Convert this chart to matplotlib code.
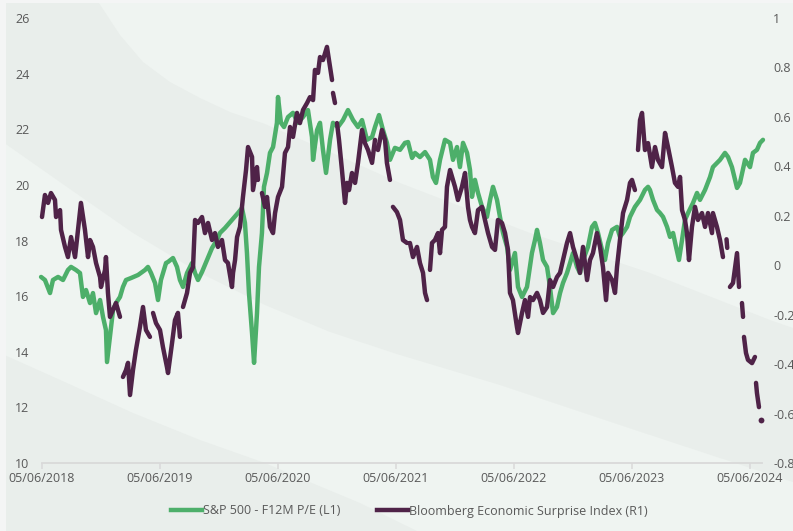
import numpy as np
import matplotlib
matplotlib.use("Agg")
import matplotlib.pyplot as plt
from matplotlib.patches import Polygon, Rectangle
from matplotlib.lines import Line2D

nan = float("nan")

# ---------------- data ----------------
pe_year = [
    2018.417, 2018.450, 2018.493, 2018.518, 2018.561, 2018.603, 2018.645, 2018.671, 2018.713, 2018.747,
    2018.772, 2018.798, 2018.832, 2018.857, 2018.883, 2018.917, 2018.942, 2018.967, 2018.976, 2019.001,
    2019.027, 2019.052, 2019.086, 2019.111, 2019.137, 2019.179, 2019.239, 2019.298, 2019.323, 2019.349,
    2019.383, 2019.408, 2019.433, 2019.476, 2019.493, 2019.535, 2019.569, 2019.594, 2019.620, 2019.654,
    2019.696, 2019.722, 2019.747, 2019.781, 2019.823, 2019.866, 2019.908, 2019.933, 2019.976, 2020.035,
    2020.086, 2020.120, 2020.145, 2020.162, 2020.179, 2020.205, 2020.222, 2020.247, 2020.264, 2020.289,
    2020.306, 2020.332, 2020.357, 2020.383, 2020.416, 2020.425, 2020.450, 2020.476, 2020.510, 2020.552,
    2020.594, 2020.637, 2020.679, 2020.713, 2020.722, 2020.756, 2020.781, 2020.806, 2020.832, 2020.866,
    2020.891, 2020.933, 2020.976, 2021.018, 2021.061, 2021.103, 2021.137, 2021.179, 2021.222, 2021.247,
    2021.281, 2021.315, 2021.348, 2021.374, 2021.416, 2021.459, 2021.501, 2021.527, 2021.561, 2021.586,
    2021.628, 2021.671, 2021.713, 2021.738, 2021.764, 2021.798, 2021.840, 2021.883, 2021.908, 2021.942,
    2021.967, 2021.993, 2022.027, 2022.052, 2022.069, 2022.094, 2022.120, 2022.154, 2022.196, 2022.222,
    2022.247, 2022.281, 2022.306, 2022.332, 2022.366, 2022.391, 2022.433, 2022.459, 2022.493, 2022.535,
    2022.577, 2022.603, 2022.620, 2022.645, 2022.671, 2022.705, 2022.730, 2022.756, 2022.789, 2022.815,
    2022.840, 2022.874, 2022.900, 2022.925, 2022.959, 2022.984, 2023.010, 2023.052, 2023.086, 2023.111,
    2023.137, 2023.171, 2023.196, 2023.222, 2023.256, 2023.298, 2023.323, 2023.349, 2023.383, 2023.408,
    2023.450, 2023.493, 2023.535, 2023.561, 2023.577, 2023.603, 2023.637, 2023.662, 2023.688, 2023.722,
    2023.747, 2023.773, 2023.798, 2023.823, 2023.849, 2023.874, 2023.900, 2023.942, 2023.976, 2024.001,
    2024.044, 2024.086, 2024.111, 2024.171, 2024.213, 2024.239, 2024.272, 2024.315, 2024.340, 2024.383,
    2024.425, 2024.450, 2024.484, 2024.510, 2024.535,
]
pe_value = [
    16.69, 16.58, 16.11, 16.58, 16.69, 16.58, 16.94, 17.05, 16.94, 16.83,
    15.97, 16.22, 15.75, 16.11, 15.39, 15.86, 15.25, 14.78, 13.63, 14.53,
    15.50, 15.75, 15.97, 16.33, 16.58, 16.65, 16.76, 16.94, 17.05, 16.83,
    16.47, 15.86, 16.58, 17.19, 17.23, 17.37, 17.05, 16.58, 16.33, 16.83,
    17.19, 16.83, 16.58, 16.87, 17.30, 17.73, 18.02, 18.27, 18.45, 18.74,
    18.99, 19.17, 18.63, 17.55, 16.11, 14.67, 13.60, 15.39, 17.05, 18.27,
    19.93, 20.43, 21.15, 21.36, 22.23, 23.16, 22.23, 22.08, 22.44, 22.59,
    22.23, 22.44, 22.69, 21.72, 20.90, 21.97, 22.23, 21.26, 20.43, 21.62,
    22.23, 22.08, 22.33, 22.69, 22.33, 22.08, 22.33, 21.62, 21.72, 22.08,
    22.51, 21.97, 21.51, 20.90, 21.33, 21.26, 21.51, 21.54, 20.97, 21.15,
    21.00, 21.18, 20.90, 20.28, 20.07, 20.90, 21.62, 21.51, 20.90, 21.36,
    20.64, 21.51, 21.15, 20.54, 19.57, 20.18, 19.71, 19.21, 18.85, 19.46,
    19.93, 19.46, 18.85, 18.27, 17.77, 16.94, 17.55, 16.33, 15.97, 16.33,
    17.55, 18.02, 18.38, 17.91, 17.30, 17.05, 16.33, 15.39, 15.61, 16.11,
    16.47, 16.83, 17.19, 17.55, 17.05, 16.83, 17.30, 17.77, 18.49, 18.63,
    18.27, 17.66, 17.30, 17.91, 18.38, 18.49, 18.13, 18.27, 18.49, 18.85,
    19.21, 19.46, 19.82, 19.93, 19.82, 19.46, 19.10, 18.99, 18.85, 18.49,
    18.13, 18.27, 17.77, 17.30, 18.02, 18.74, 18.99, 19.35, 19.71, 19.46,
    19.82, 20.28, 20.64, 20.90, 21.15, 21.00, 20.64, 19.89, 20.07, 20.90,
    20.64, 21.15, 21.26, 21.51, 21.62,
]

esi_year = [
    2018.425, 2018.450, 2018.476, 2018.501, 2018.535, 2018.544, 2018.578, 2018.586, 2018.620, 2018.645,
    2018.671, 2018.705, 2018.730, 2018.755, 2018.789, 2018.815, 2018.832, 2018.857, 2018.883, 2018.917,
    2018.925, 2018.959, 2018.967, 2018.984, 2019.001, 2019.027, 2019.052, 2019.086, 2019.098, 2019.111,
    2019.137, 2019.154, 2019.171, 2019.196, 2019.221, 2019.255, 2019.281, 2019.306, 2019.340, 2019.353,
    2019.366, 2019.391, 2019.425, 2019.450, 2019.484, 2019.493, 2019.527, 2019.552, 2019.577, 2019.594,
    2019.607, 2019.620, 2019.654, 2019.679, 2019.705, 2019.722, 2019.747, 2019.781, 2019.806, 2019.832,
    2019.866, 2019.891, 2019.916, 2019.950, 2019.976, 2020.001, 2020.035, 2020.044, 2020.061, 2020.078,
    2020.103, 2020.128, 2020.154, 2020.171, 2020.205, 2020.213, 2020.247, 2020.255, 2020.272, 2020.289,
    2020.315, 2020.332, 2020.357, 2020.383, 2020.400, 2020.425, 2020.459, 2020.484, 2020.510, 2020.527,
    2020.552, 2020.586, 2020.611, 2020.637, 2020.671, 2020.696, 2020.722, 2020.738, 2020.764, 2020.781,
    2020.806, 2020.840, 2020.866, 2020.883, 2020.887, 2020.891, 2020.908, 2020.917, 2020.925, 2020.942,
    2020.967, 2020.993, 2021.010, 2021.027, 2021.052, 2021.078, 2021.103, 2021.137, 2021.162, 2021.188,
    2021.222, 2021.247, 2021.260, 2021.272, 2021.306, 2021.332, 2021.348, 2021.374, 2021.386, 2021.399,
    2021.433, 2021.459, 2021.484, 2021.518, 2021.530, 2021.543, 2021.569, 2021.603, 2021.628, 2021.654,
    2021.671, 2021.688, 2021.700, 2021.713, 2021.730, 2021.755, 2021.781, 2021.798, 2021.815, 2021.840,
    2021.857, 2021.883, 2021.908, 2021.925, 2021.950, 2021.984, 2022.010, 2022.035, 2022.052, 2022.069,
    2022.094, 2022.120, 2022.154, 2022.179, 2022.205, 2022.239, 2022.264, 2022.289, 2022.323, 2022.349,
    2022.374, 2022.391, 2022.416, 2022.450, 2022.459, 2022.493, 2022.518, 2022.544, 2022.561, 2022.586,
    2022.620, 2022.645, 2022.671, 2022.705, 2022.730, 2022.756, 2022.789, 2022.815, 2022.840, 2022.874,
    2022.900, 2022.925, 2022.959, 2022.984, 2023.010, 2023.044, 2023.069, 2023.094, 2023.128, 2023.154,
    2023.179, 2023.205, 2023.222, 2023.256, 2023.281, 2023.298, 2023.323, 2023.349, 2023.383, 2023.408,
    2023.425, 2023.450, 2023.463, 2023.476, 2023.493, 2023.510, 2023.535, 2023.561, 2023.594, 2023.620,
    2023.645, 2023.679, 2023.705, 2023.730, 2023.764, 2023.789, 2023.815, 2023.832, 2023.849, 2023.874,
    2023.891, 2023.908, 2023.933, 2023.959, 2023.984, 2024.018, 2024.044, 2024.069, 2024.103, 2024.111,
    2024.145, 2024.171, 2024.196, 2024.213, 2024.226, 2024.232, 2024.243, 2024.255, 2024.281, 2024.315,
    2024.332, 2024.349, 2024.357, 2024.366, 2024.370, 2024.374, 2024.391, 2024.408, 2024.442, 2024.467,
    2024.471, 2024.476, 2024.484, 2024.501, 2024.510, 2024.518,
]
esi_value = [
    0.195, 0.284, 0.252, 0.292, 0.264, 0.195, 0.223, 0.143, 0.074, 0.033,
    0.114, 0.033, 0.143, 0.252, 0.143, 0.033, 0.102, 0.074, 0.009, -0.048,
    -0.088, -0.019, 0.033, -0.112, -0.209, -0.181, -0.153, -0.209, nan, -0.452,
    -0.424, -0.395, -0.525, -0.424, -0.343, -0.250, -0.169, -0.262, -0.290, nan,
    -0.193, -0.234, -0.262, -0.331, -0.412, -0.436, -0.315, -0.222, -0.193, -0.290,
    nan, -0.169, -0.112, -0.031, -0.007, 0.183, 0.171, 0.195, 0.130, 0.171,
    0.102, 0.130, 0.074, 0.102, 0.021, 0.009, -0.088, -0.031, 0.021, 0.114,
    0.155, 0.276, 0.385, 0.478, 0.438, 0.304, 0.397, 0.345, nan, 0.292,
    0.236, 0.276, 0.155, 0.130, 0.211, 0.276, 0.317, 0.454, 0.478, 0.559,
    0.519, 0.616, 0.575, 0.628, 0.656, 0.680, 0.668, 0.790, 0.778, 0.842,
    0.830, 0.883, 0.802, 0.749, nan, 0.697, 0.656, nan, 0.575, 0.507,
    0.385, 0.252, 0.333, 0.304, 0.373, 0.333, 0.414, 0.547, 0.494, 0.466,
    0.414, 0.507, nan, 0.466, 0.547, 0.507, 0.414, 0.345, nan, 0.236,
    0.215, 0.183, 0.102, 0.090, nan, 0.090, 0.033, 0.074, 0.009, -0.031,
    -0.112, -0.141, nan, -0.019, 0.090, 0.102, 0.130, 0.049, 0.143, 0.155,
    0.317, 0.385, 0.345, 0.317, 0.264, 0.317, 0.373, 0.236, 0.183, 0.155,
    0.130, 0.223, 0.236, 0.183, 0.130, 0.074, 0.062, 0.183, 0.171, 0.130,
    0.062, -0.112, -0.141, -0.250, -0.274, -0.193, -0.141, -0.209, -0.129, -0.141,
    -0.112, -0.141, -0.193, -0.169, -0.060, -0.088, -0.048, -0.031, 0.021, 0.090,
    0.130, 0.074, 0.021, -0.031, 0.074, -0.060, 0.021, 0.049, 0.130, 0.074,
    -0.007, -0.141, -0.031, -0.060, -0.112, -0.007, 0.102, 0.211, 0.264, 0.333,
    0.345, 0.304, nan, 0.466, 0.587, 0.616, 0.466, 0.494, 0.397, 0.478,
    0.426, 0.397, 0.535, 0.478, 0.397, 0.333, 0.317, 0.357, 0.223, 0.183,
    0.130, 0.021, 0.155, 0.236, 0.183, 0.211, 0.155, 0.211, 0.130, 0.211,
    0.155, 0.102, 0.033, nan, 0.105, 0.070, nan, -0.088, -0.072, 0.049,
    -0.088, nan, -0.153, -0.209, nan, -0.290, -0.355, -0.383, -0.396, -0.371,
    nan, -0.476, -0.517, -0.574, nan, -0.626,
]

x_tick_year = [2018.425, 2019.425, 2020.425, 2021.425, 2022.425, 2023.425, 2024.425]
x_tick_label = ["05/06/2018", "05/06/2019", "05/06/2020", "05/06/2021",
                "05/06/2022", "05/06/2023", "05/06/2024"]
left_ticks = [10, 12, 14, 16, 18, 20, 22, 24, 26]
right_ticks = [-0.8, -0.6, -0.4, -0.2, 0, 0.2, 0.4, 0.6, 0.8, 1]
right_tick_label = ["-0.8", "-0.6", "-0.4", "-0.2", "0", "0.2", "0.4", "0.6", "0.8", "1"]
series_names = ["S&P 500 - F12M P/E (L1)", "Bloomberg Economic Surprise Index (R1)"]

# ---------------- style ----------------
plt.rcParams["font.family"] = ["Open Sans", "DejaVu Sans"]
GREEN = "#4daf6a"
PURPLE = "#4f2348"
TXT = "#595959"
MINT = "#eff4f1"
GREY = "#e9eeeb"
MARGIN = "#f4f5f5"
LW = 3.2

W, H = 793, 531
fig = plt.figure(figsize=(W / 100, H / 100), dpi=100)
fig.patch.set_facecolor(MINT)


def fp(pts):
    return [(x / W, 1 - y / H) for x, y in pts]


curve_a = [(97, 0), (120, 35), (143, 62), (170, 82), (200, 98), (230, 112), (265, 124),
           (330, 152), (400, 183), (530, 233), (650, 273), (770, 320), (793, 328)]
curve_b = [(0, 140), (67, 187), (133, 233), (200, 273), (265, 305), (330, 332),
           (400, 355), (500, 385), (650, 435), (793, 482)]
curve_c = [(0, 353), (67, 383), (133, 413), (200, 440), (265, 463), (300, 478),
           (360, 503), (417, 531)]

band = [(0, 0)] + curve_a + curve_b[::-1]
fig.patches.append(Polygon(fp(band), closed=True, facecolor=GREY, edgecolor="none",
                           transform=fig.transFigure, zorder=-10))
fig.patches.append(Polygon(fp(curve_c + [(0, 531)]), closed=True, facecolor=GREY,
                           edgecolor="none", transform=fig.transFigure, zorder=-10))
fig.patches.append(Rectangle((0, 0), 6 / W, 1, facecolor=MARGIN, edgecolor="none",
                             transform=fig.transFigure, zorder=-9))
fig.patches.append(Rectangle((0, 1 - 3 / H), 1, 3 / H, facecolor=MARGIN, edgecolor="none",
                             transform=fig.transFigure, zorder=-9))

ax = fig.add_axes([42 / W, 1 - 463 / H, 720 / W, 445 / H])
ax.set_facecolor("none")
ax2 = ax.twinx()
ax2.set_facecolor("none")

ax.plot(pe_year, pe_value, color=GREEN, lw=LW, solid_joinstyle="round",
        solid_capstyle="round", clip_on=False)

ey = np.array(esi_year)
ev = np.array(esi_value)
ax2.plot(ey, ev, color=PURPLE, lw=LW, solid_joinstyle="round",
         solid_capstyle="round", clip_on=False)
valid = ~np.isnan(ev)
prev_ok = np.r_[False, valid[:-1]]
next_ok = np.r_[valid[1:], False]
iso = valid & ~prev_ok & ~next_ok
ax2.plot(ey[iso], ev[iso], linestyle="none", marker="o", ms=4.2, color=PURPLE,
         mec="none", clip_on=False)

ax.set_xlim(2018.425, 2018.425 + 720 / 118)
ax.set_ylim(10, 26)
ax2.set_ylim(-0.8, 1.0)

ax.set_xticks(x_tick_year)
ax.set_xticklabels(x_tick_label)
ax.set_yticks(left_ticks)
ax.set_yticklabels([str(v) for v in left_ticks])
ax2.set_yticks(right_ticks)
ax2.set_yticklabels(right_tick_label)

for s in ["top", "left", "right"]:
    ax.spines[s].set_visible(False)
for s in ax2.spines.values():
    s.set_visible(False)
ax.spines["bottom"].set_color("#d9d9d9")
ax.spines["bottom"].set_linewidth(1.3)

ax.tick_params(axis="x", length=4, width=1.1, color="#d9d9d9", labelcolor=TXT,
               labelsize=9, pad=2.5)
ax.tick_params(axis="y", length=0, labelcolor=TXT, labelsize=9, pad=9)
ax2.tick_params(axis="y", length=0, labelcolor=TXT, labelsize=9, pad=8)

handles = [Line2D([0], [0], color=GREEN, lw=LW),
           Line2D([0], [0], color=PURPLE, lw=LW)]
fig.legend(handles, series_names, loc="center", bbox_to_anchor=(0.516, 1 - 511 / H),
           ncol=2, frameon=False, fontsize=9, handlelength=2.5, handletextpad=0.05,
           columnspacing=2.9, labelcolor=TXT)

fig.savefig("out.png", dpi=100, facecolor=fig.get_facecolor())
